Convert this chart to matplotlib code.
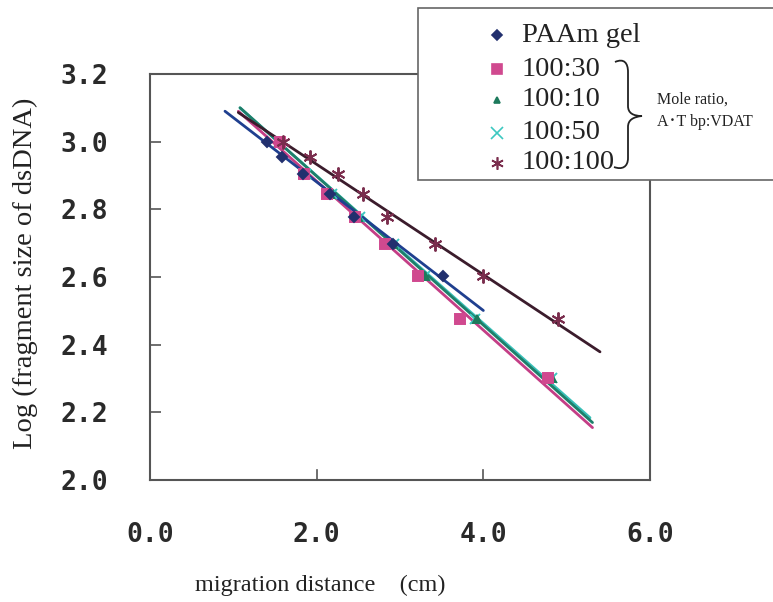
import matplotlib
matplotlib.use("Agg")
import matplotlib.pyplot as plt
import numpy as np
from matplotlib.path import Path
from matplotlib.patches import PathPatch, Rectangle

# ---- data ----
paam_x = [1.40, 1.58, 1.84, 2.16, 2.45, 2.92, 3.52]
paam_y = [3.000, 2.954, 2.903, 2.845, 2.778, 2.699, 2.602]

r30_x = [1.56, 1.85, 2.12, 2.46, 2.82, 3.22, 3.72, 4.78]
r30_y = [3.000, 2.903, 2.845, 2.778, 2.699, 2.602, 2.477, 2.301]

r10_x = [1.55, 1.86, 2.16, 2.50, 2.92, 3.30, 3.92, 4.82]
r10_y = [3.000, 2.903, 2.845, 2.778, 2.699, 2.602, 2.477, 2.301]

r50_x = [1.55, 1.87, 2.18, 2.52, 2.93, 3.30, 3.90, 4.82]
r50_y = [3.000, 2.903, 2.845, 2.778, 2.699, 2.602, 2.477, 2.301]

r100_x = [1.60, 1.92, 2.26, 2.56, 2.84, 3.42, 4.00, 4.90]
r100_y = [3.000, 2.954, 2.903, 2.845, 2.778, 2.699, 2.602, 2.477]

# trend lines: (x start, x end, slope, intercept)
paam_fit = (0.90, 4.00, -0.190, 3.261)
r30_fit = (1.06, 5.31, -0.220, 3.323)
r10_fit = (1.08, 5.31, -0.220, 3.338)
r50_fit = (1.08, 5.28, -0.218, 3.335)
r100_fit = (1.06, 5.40, -0.163, 3.259)

xticks = [0.0, 2.0, 4.0, 6.0]
xtick_labels = ["0.0", "2.0", "4.0", "6.0"]
yticks = [2.0, 2.2, 2.4, 2.6, 2.8, 3.0, 3.2]
ytick_labels = ["2.0", "2.2", "2.4", "2.6", "2.8", "3.0", "3.2"]

legend_labels = ["PAAm gel", "100:30", "100:10", "100:50", "100:100"]

W, H = 773, 602
fig = plt.figure(figsize=(W / 100, H / 100), dpi=100)
ax = fig.add_axes([150 / W, 1 - 480 / H, 500 / W, 406 / H])

def fit_line(f):
    x0, x1, m, b = f
    xs = np.array([x0, x1])
    return xs, m * xs + b

# (x, y, fit, marker, marker colour, line colour, marker size, zorder, legend size)
series = [
    (paam_x, paam_y, paam_fit, "D", "#22306e", "#1f3f8f", 5, 3.4, 5),
    (r30_x, r30_y, r30_fit, "s", "#d0498f", "#c43e86", 7, 3.3, 6.5),
    (r10_x, r10_y, r10_fit, "^", "#1d7a5c", "#1e7f6a", 6, 3.2, 5),
    (r50_x, r50_y, r50_fit, "x", "#3cc8c0", "#38c0b8", 7, 3.1, 8),
    (r100_x, r100_y, r100_fit, (6, 2, 0), "#7a2d4d", "#3b1c2c", 10, 3.5, 9),
]
line_z = {0: 2.4, 1: 2.2, 2: 2.3, 3: 2.1, 4: 2.5}

for i, s in enumerate(series):
    lx, ly = fit_line(s[2])
    ax.plot(lx, ly, color=s[5], lw=2.0, solid_capstyle="round", zorder=line_z[i])
for xs, ys, fit, mk, mc, lc, ms, z, lms in series:
    ax.plot(xs, ys, ls="none", marker=mk, ms=ms, color=mc, mec=mc,
            mew=1.4, zorder=z)

ax.set_xlim(0, 6)
ax.set_ylim(2.0, 3.2)
ax.set_xticks(xticks)
ax.set_xticklabels(xtick_labels)
ax.set_yticks(yticks)
ax.set_yticklabels(ytick_labels)

for lab in ax.get_xticklabels() + ax.get_yticklabels():
    lab.set_fontfamily("DejaVu Sans Mono")
    lab.set_fontsize(19)
    lab.set_fontweight("bold")
    lab.set_color("#2a2a2a")
ax.tick_params(axis="y", direction="in", length=8, width=1.2,
               color="#555555", pad=30)
ax.tick_params(axis="x", pad=30, length=0)
for x in [2.0, 4.0]:
    ax.plot([x, x], [2.0, 2.03], color="#555555", lw=1.2, zorder=1)
for sp in ax.spines.values():
    sp.set_color("#555555")
    sp.set_linewidth(1.5)

fig.text(25 / W, 1 - 273 / H, "Log (fragment size of dsDNA)", rotation=90,
         ha="center", va="center", family="Liberation Serif", fontsize=20.5,
         color="#222222")
fig.text(320 / W, 1 - 585 / H, "migration distance\u3000(cm)",
         ha="center", va="center", family=["Liberation Serif", "Noto Sans CJK JP"],
         fontsize=17.5, color="#222222")

# ---- legend box ----
box = Rectangle((418 / W, 1 - 180 / H), 400 / W, 172 / H,
                transform=fig.transFigure, fill=True, fc="white",
                ec="#666666", lw=1.2, zorder=5)
fig.add_artist(box)
rows_y = [35, 69, 100, 133, 163]
for s, lab, ry in zip(series, legend_labels, rows_y):
    mk, mc, lms = s[3], s[4], s[8]
    fig.add_artist(plt.Line2D([497 / W], [1 - ry / H], marker=mk, ms=lms,
                              color=mc, mec=mc, mew=1.2, ls="none",
                              transform=fig.transFigure, zorder=6))
    fig.text(522 / W, 1 - ry / H, lab, ha="left", va="center",
             family="Liberation Serif", fontsize=20.5, color="#222222", zorder=6)

# brace
verts_px = [
    (615, 62), (624, 58), (628, 63), (628, 72),
    (628, 106),
    (628, 113), (633, 116), (642, 116),
    (633, 117), (628, 120), (628, 127),
    (628, 158),
    (628, 167), (622, 170), (614, 167),
]
codes = [Path.MOVETO, Path.CURVE4, Path.CURVE4, Path.CURVE4,
         Path.LINETO,
         Path.CURVE4, Path.CURVE4, Path.CURVE4,
         Path.CURVE4, Path.CURVE4, Path.CURVE4,
         Path.LINETO,
         Path.CURVE4, Path.CURVE4, Path.CURVE4]
verts = [(x / W, 1 - y / H) for x, y in verts_px]
fig.add_artist(PathPatch(Path(verts, codes), transform=fig.transFigure,
                         fill=False, ec="#222222", lw=1.3, zorder=6))
fig.text(657 / W, 1 - 100 / H, "Mole ratio,", ha="left", va="center",
         family="Liberation Serif", fontsize=11.5, color="#222222", zorder=6)
fig.text(657 / W, 1 - 122 / H, "A\uff65T bp:VDAT", ha="left", va="center",
         family=["Liberation Serif", "Noto Sans CJK JP"], fontsize=11.5,
         color="#222222", zorder=6)

fig.savefig("out.png", dpi=100)
